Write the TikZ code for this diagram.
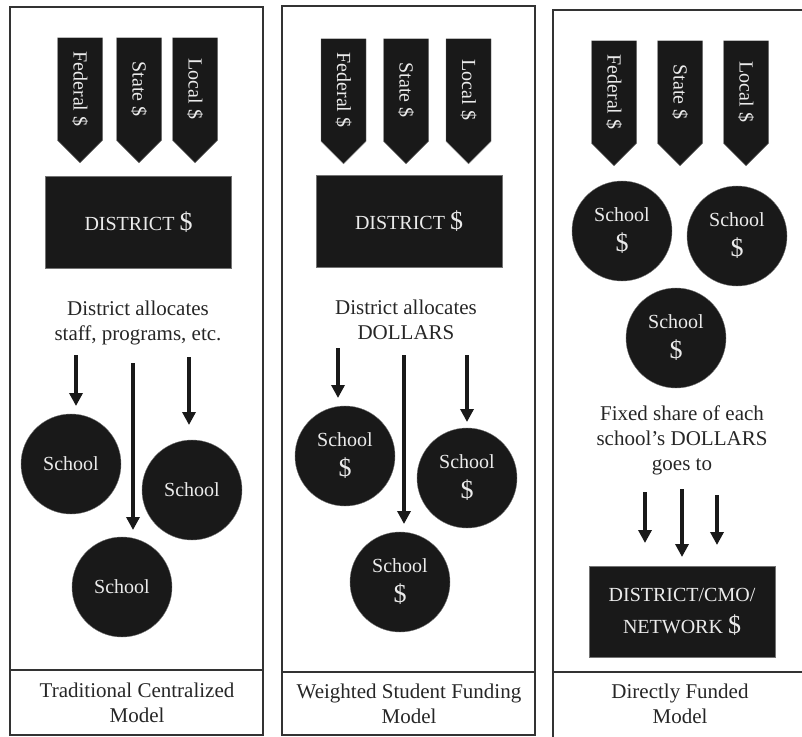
\documentclass[tikz,border=0pt]{standalone}
\usepackage{fontspec}
\setmainfont{Liberation Serif}
\usetikzlibrary{shapes.symbols,arrows.meta}

\begin{document}
\begin{tikzpicture}[x=1pt, y=-1pt,
    panel/.style={draw=black!80, line width=1.6pt},
    tag/.style={signal, signal to=east, signal from=nowhere,
      signal pointer angle=90, fill=black!90, draw=black!55,
      text=black!8, minimum width=125pt, minimum height=45pt,
      inner sep=0pt, rotate=-90, font=\fontsize{20}{24}\selectfont},
    school/.style={circle, fill=black!90, draw=black!55, text=black!8,
      minimum size=100pt, inner sep=0pt, align=center,
      font=\fontsize{20}{30}\selectfont},
    bank/.style={rectangle, fill=black!90, draw=black!55, text=black!8,
      minimum width=186pt, minimum height=92pt, inner sep=0pt,
      align=center, font=\fontsize{20}{34}\selectfont},
    note/.style={align=center, text=black!85,
      font=\fontsize{21}{25}\selectfont},
    flow/.style={-{Triangle[width=13pt,length=13pt]}, line width=3.6pt,
      black!90}]
  \useasboundingbox (0,0) rectangle (802,736);
  \clip (0,0) rectangle (802,736);
  \newcommand{\bigdol}{{\fontsize{26}{26}\selectfont\$}}

  % panels
  \draw[panel] (10,7) rectangle (263,735);
  \draw[panel] (10,670) -- (263,670);
  \draw[panel] (282,6) rectangle (535,735);
  \draw[panel] (282,672) -- (535,672);
  \draw[panel] (553,10) rectangle (806,740);
  \draw[panel] (553,672) -- (806,672);

  % traditional centralized model
  \node[tag] (fedA) at (80,89) {Federal \$};
  \node[tag] (staA) at (139,89) {State \$};
  \node[tag] (locA) at (195,89) {Local \$};
  \node[bank] (distA) at (138.5,222) {DISTRICT \bigdol};
  \node[note] (noteA) at (138,323) {District allocates\\staff, programs, etc.};
  \node[school] (schA1) at (71,464) {School};
  \node[school] (schA2) at (192,490) {School};
  \node[school] (schA3) at (122,587) {School};
  \coordinate (a1s) at (76,355);
  \coordinate (a1e) at (76,406);
  \coordinate (a2s) at (133,363);
  \coordinate (a2e) at (133,530);
  \coordinate (a3s) at (189,357);
  \coordinate (a3e) at (189,425);
  \draw[flow] (a1s) -- (a1e);
  \draw[flow] (a2s) -- (a2e);
  \draw[flow] (a3s) -- (a3e);
  \node[note] (capA) at (137,703) {Traditional Centralized\\Model};

  % weighted student funding model
  \node[tag] (fedB) at (343.5,90) {Federal \$};
  \node[tag] (staB) at (406,90) {State \$};
  \node[tag] (locB) at (468.5,90) {Local \$};
  \node[bank] (distB) at (409,221) {DISTRICT \bigdol};
  \node[note] (noteB) at (406,320) {District allocates\\DOLLARS};
  \node[school] (schB1) at (345,456) {School\\\bigdol};
  \node[school] (schB2) at (467,478) {School\\\bigdol};
  \node[school] (schB3) at (400,582) {School\\\bigdol};
  \coordinate (b1s) at (338,348);
  \coordinate (b1e) at (338,398);
  \coordinate (b2s) at (404,355);
  \coordinate (b2e) at (404,524);
  \coordinate (b3s) at (467,355);
  \coordinate (b3e) at (467,422);
  \draw[flow] (b1s) -- (b1e);
  \draw[flow] (b2s) -- (b2e);
  \draw[flow] (b3s) -- (b3e);
  \node[note] (capB) at (409,704) {Weighted Student Funding\\Model};

  % directly funded model
  \node[tag] (fedC) at (614,92) {Federal \$};
  \node[tag] (staC) at (680,92) {State \$};
  \node[tag] (locC) at (746,92) {Local \$};
  \node[school] (schC1) at (622,231) {School\\\bigdol};
  \node[school] (schC2) at (737,236) {School\\\bigdol};
  \node[school] (schC3) at (676,338) {School\\\bigdol};
  \node[note] (noteC) at (682,440) {Fixed share of each\\school’s DOLLARS\\goes to};
  \coordinate (c1s) at (645,492);
  \coordinate (c1e) at (645,543);
  \coordinate (c2s) at (682,489);
  \coordinate (c2e) at (682,557);
  \coordinate (c3s) at (717,495);
  \coordinate (c3e) at (717,545);
  \draw[flow] (c1s) -- (c1e);
  \draw[flow] (c2s) -- (c2e);
  \draw[flow] (c3s) -- (c3e);
  \node[bank, minimum height=91pt, font=\fontsize{20}{32}\selectfont]
    (distC) at (682,612) {DISTRICT/CMO/\\NETWORK \bigdol};
  \node[note] (capC) at (680,704) {Directly Funded\\Model};
\end{tikzpicture}
\end{document}
